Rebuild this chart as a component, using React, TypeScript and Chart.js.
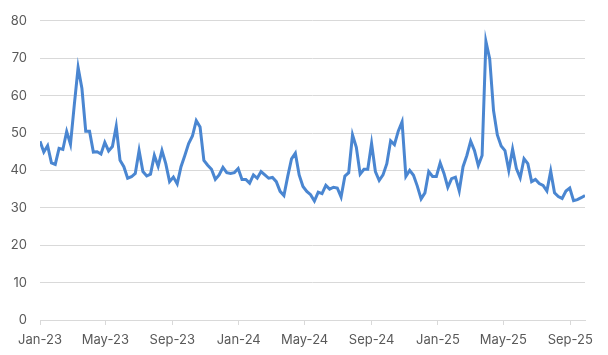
import React, { useEffect, useRef } from "react";
import { Chart, registerables } from "chart.js";

Chart.register(...registerables);

// Weekly series starting on the first week of January 2023
const startDate = "2023-01-01";
const values: number[] = [
  47.8, 44.9, 46.6, 42.0, 41.6, 45.9, 45.6, 50.4, 47.0, 57.5,
  67.5, 61.9, 50.5, 50.5, 44.9, 45.0, 44.4, 47.5, 45.2, 46.4,
  51.8, 42.7, 41.0, 37.9, 38.3, 39.2, 45.3, 39.7, 38.5, 39.0,
  44.0, 41.1, 45.3, 41.8, 37.0, 38.2, 36.4, 41.0, 44.0, 47.2,
  49.2, 53.3, 51.6, 42.7, 41.4, 40.3, 37.6, 38.8, 40.8, 39.4,
  39.2, 39.4, 40.5, 37.6, 37.6, 36.6, 38.8, 37.9, 39.7, 38.8,
  37.9, 38.1, 37.0, 34.4, 33.3, 38.4, 43.1, 44.6, 38.8, 35.7,
  34.4, 33.5, 31.8, 34.2, 33.8, 36.0, 35.0, 35.5, 35.3, 32.9,
  38.5, 39.4, 49.5, 46.2, 39.0, 40.3, 40.3, 47.2, 39.7, 37.3,
  38.8, 41.8, 47.9, 46.9, 50.5, 53.0, 38.4, 40.0, 38.7, 35.8,
  32.4, 34.0, 39.7, 38.4, 38.4, 42.0, 39.2, 35.5, 37.8, 38.2,
  34.5, 41.0, 44.0, 47.8, 45.3, 41.3, 44.0, 74.5, 69.8, 56.0,
  49.5, 46.5, 45.3, 40.0, 45.7, 40.5, 38.0, 43.1, 41.8, 37.0,
  37.6, 36.5, 36.0, 34.5, 39.8, 34.0, 33.0, 32.5, 34.5, 35.3,
  31.9, 32.2, 32.7, 33.3,
];

const tickDates = [
  "2023-01-01", "2023-05-01", "2023-09-01",
  "2024-01-01", "2024-05-01", "2024-09-01",
  "2025-01-01", "2025-05-01", "2025-09-01",
];
const tickLabels = [
  "Jan-23", "May-23", "Sep-23",
  "Jan-24", "May-24", "Sep-24",
  "Jan-25", "May-25", "Sep-25",
];

const DAY = 86400000;
const dayOf = (iso: string) =>
  Math.round((Date.parse(iso + "T00:00:00Z") - Date.parse(startDate + "T00:00:00Z")) / DAY);

export default function App() {
  const ref = useRef<HTMLCanvasElement | null>(null);

  useEffect(() => {
    if (!ref.current) return;
    const points = values.map((v, i) => ({ x: i * 7, y: v }));
    const tickDays = tickDates.map(dayOf);
    const font = { family: "Inter", size: 13 };
    const chart = new Chart(ref.current, {
      type: "line",
      data: {
        datasets: [
          {
            data: points,
            borderColor: "#4a86d1",
            borderWidth: 3,
            pointRadius: 0,
            tension: 0,
            fill: false,
          },
        ],
      },
      options: {
        animation: false,
        responsive: false,
        parsing: false as any,
        layout: { padding: { left: 0, right: 23, top: 14, bottom: 0 } },
        plugins: { legend: { display: false }, tooltip: { enabled: false } },
        scales: {
          x: {
            type: "linear",
            min: 0,
            max: (values.length - 1) * 7,
            afterBuildTicks: (scale: any) => {
              scale.ticks = tickDays.map((d) => ({ value: d }));
            },
            afterFit: (scale: any) => {
              scale.height = 35;
            },
            grid: {
              display: true,
              drawOnChartArea: false,
              drawTicks: true,
              tickLength: 5,
              color: "#d9d9d9",
            },
            border: { display: true, color: "#d9d9d9" },
            ticks: {
              autoSkip: false,
              maxRotation: 0,
              padding: 7,
              color: "#595959",
              font,
              callback: (v: any) => {
                const idx = tickDays.indexOf(Number(v));
                return idx >= 0 ? tickLabels[idx] : "";
              },
            },
          },
          y: {
            min: 0,
            max: 80,
            afterFit: (scale: any) => {
              scale.width = 40;
            },
            grid: { color: "#d9d9d9", drawTicks: false },
            border: { display: false },
            ticks: { stepSize: 10, padding: 13, color: "#595959", font },
          },
        },
      },
    });
    return () => chart.destroy();
  }, []);

  return (
    <div style={{ position: "fixed", left: 0, top: 0, width: 608, height: 355, background: "#fff" }}>
      <canvas ref={ref} width={608} height={355} />
    </div>
  );
}
